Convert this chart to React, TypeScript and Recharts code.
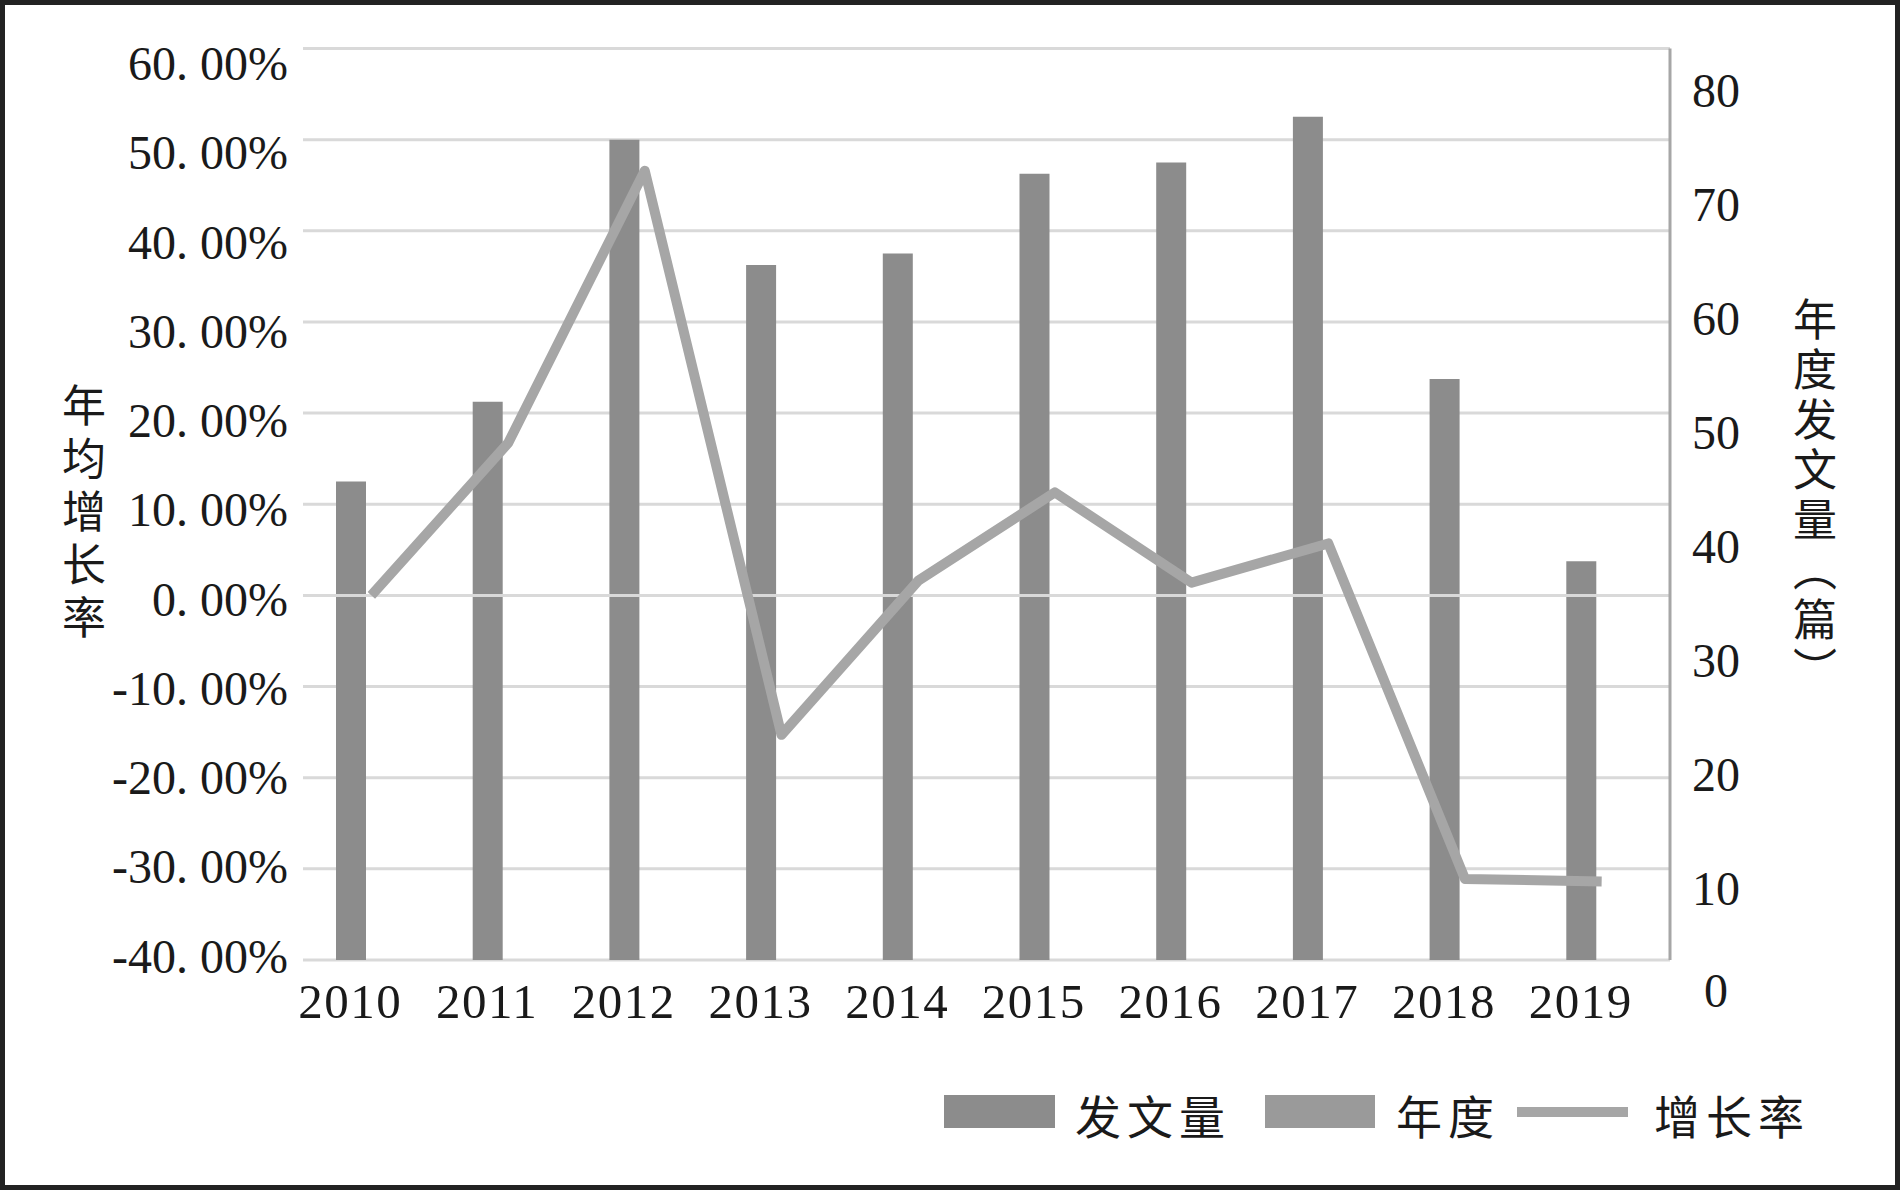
import React from 'react';
import {
    ComposedChart,
    Bar,
    Line,
    XAxis,
    YAxis,
    CartesianGrid,
    ReferenceLine,
    Legend,
    Label,
} from 'recharts';

const years = ['2010', '2011', '2012', '2013', '2014', '2015', '2016', '2017', '2018', '2019'];
const paperCounts = [42, 49, 72, 61, 62, 69, 70, 74, 51, 35];
// the 年度 series carries no visible bars in the source chart
const yearSeries = [null, null, null, null, null, null, null, null, null, null];
const growthRates = [0, 16.7, 46.6, -15.3, 1.6, 11.3, 1.4, 5.7, -31.1, -31.4];

const leftTicks = [-40, -30, -20, -10, 0, 10, 20, 30, 40, 50, 60];
const rightTicks = [0, 10, 20, 30, 40, 50, 60, 70, 80];

const data = years.map((year, i) => ({
    year,
    count: paperCounts[i],
    yearly: yearSeries[i],
    growth: growthRates[i],
}));

const SERIF = "'Liberation Serif', 'Times New Roman', serif";
const CJK = "'Noto Sans CJK SC', 'Noto Sans', sans-serif";
const INK = '#1a1a1a';

const fmtPct = (v: number) => v.toFixed(2).replace('.', '. ') + '%';

const LeftTick = ({ x, y, payload }: any) => {
    const v = payload.value;
    const dy = -4 + (v + 40) * 0.19;
    return (
        <text x={x} y={y + dy} textAnchor="end" dominantBaseline="central" fontSize={48} fontFamily={SERIF} fill={INK}>
            {fmtPct(v)}
        </text>
    );
};

const RightTick = ({ x, y, payload }: any) => {
    const v = payload.value;
    return (
        <text x={x + 46} y={y + (v === 0 ? 30 : 42)} textAnchor="middle" dominantBaseline="central" fontSize={48} fontFamily={SERIF} fill={INK}>
            {v}
        </text>
    );
};

const YearTick = ({ x, y, payload }: any) => (
    <text x={x - 21} y={y + 41} textAnchor="middle" dominantBaseline="central" fontSize={49} letterSpacing={1.5} fontFamily={SERIF} fill={INK}>
        {payload.value}
    </text>
);

const LeftTitle = () => (
    <text x={84} y={383} fontSize={44} letterSpacing={9} fontFamily={CJK} fill={INK} style={{ writingMode: 'vertical-rl', textOrientation: 'mixed' }}>
        年均增长率
    </text>
);

const RightTitle = () => (
    <text x={1815} y={297} fontSize={44} letterSpacing={6} fontFamily={CJK} fill={INK} style={{ writingMode: 'vertical-rl', textOrientation: 'mixed' }}>
        年度发文量（篇）
    </text>
);

const legendText: React.CSSProperties = {
    position: 'absolute',
    top: 11,
    fontSize: 46,
    lineHeight: '46px',
    letterSpacing: 6,
    fontFamily: CJK,
    color: INK,
    whiteSpace: 'nowrap',
};

const LegendBox = () => (
    <div style={{ position: 'relative', width: 1900, height: 70 }}>
        <div style={{ position: 'absolute', left: 944, top: 15, width: 111, height: 33, background: '#8c8c8c' }} />
        <span style={{ ...legendText, left: 1075 }}>发文量</span>
        <div style={{ position: 'absolute', left: 1265, top: 15, width: 110, height: 33, background: '#9a9a9a' }} />
        <span style={{ ...legendText, left: 1396 }}>年度</span>
        <div style={{ position: 'absolute', left: 1517, top: 27, width: 111, height: 10, background: '#a6a6a6' }} />
        <span style={{ ...legendText, left: 1654 }}>增长率</span>
    </div>
);

export default function App() {
    return (
        <div style={{ position: 'absolute', top: 0, left: 0, width: 1900, height: 1190, background: '#fff' }}>
            <ComposedChart
                width={1900}
                height={1190}
                data={data}
                margin={{ top: 48.5, right: 10, left: 13, bottom: 170 }}
                barSize={30}
                barGap={11}
            >
                <CartesianGrid yAxisId="left" vertical={false} stroke="#d9d9d9" strokeWidth={3} />
                <XAxis dataKey="year" axisLine={false} tickLine={false} tickSize={0} tickMargin={0} height={60} tick={<YearTick />} interval={0} />
                <YAxis
                    yAxisId="left"
                    orientation="left"
                    width={290}
                    domain={[-40, 60]}
                    ticks={leftTicks}
                    axisLine={false}
                    tickLine={false}
                    tickSize={0}
                    tickMargin={15}
                    tick={<LeftTick />}
                    interval={0}
                >
                    <Label value="年均增长率" content={LeftTitle} />
                </YAxis>
                <YAxis
                    yAxisId="right"
                    orientation="right"
                    width={220}
                    domain={[0, 80]}
                    ticks={rightTicks}
                    axisLine={{ stroke: '#a6a6a6', strokeWidth: 3 }}
                    tickLine={false}
                    tickSize={0}
                    tickMargin={0}
                    tick={<RightTick />}
                    interval={0}
                >
                    <Label value="年度发文量（篇）" content={RightTitle} />
                </YAxis>
                <Bar yAxisId="right" dataKey="count" name="发文量" fill="#8c8c8c" isAnimationActive={false} />
                <Bar yAxisId="right" dataKey="yearly" name="年度" fill="#9a9a9a" isAnimationActive={false} />
                <ReferenceLine yAxisId="left" y={0} stroke="#d9d9d9" strokeWidth={3} />
                <Line
                    yAxisId="left"
                    type="linear"
                    dataKey="growth"
                    name="增长率"
                    stroke="#a6a6a6"
                    strokeWidth={10}
                    strokeLinejoin="round"
                    dot={false}
                    activeDot={false}
                    isAnimationActive={false}
                />
                <Legend
                    verticalAlign="middle"
                    align="center"
                    layout="horizontal"
                    wrapperStyle={{ top: 1080, left: 0, width: 1900, height: 70 }}
                    content={() => <LegendBox />}
                />
            </ComposedChart>
            <div
                style={{
                    position: 'absolute',
                    top: 0,
                    left: 0,
                    width: 1900,
                    height: 1190,
                    boxSizing: 'border-box',
                    border: '5px solid #222',
                    pointerEvents: 'none',
                }}
            />
        </div>
    );
}
